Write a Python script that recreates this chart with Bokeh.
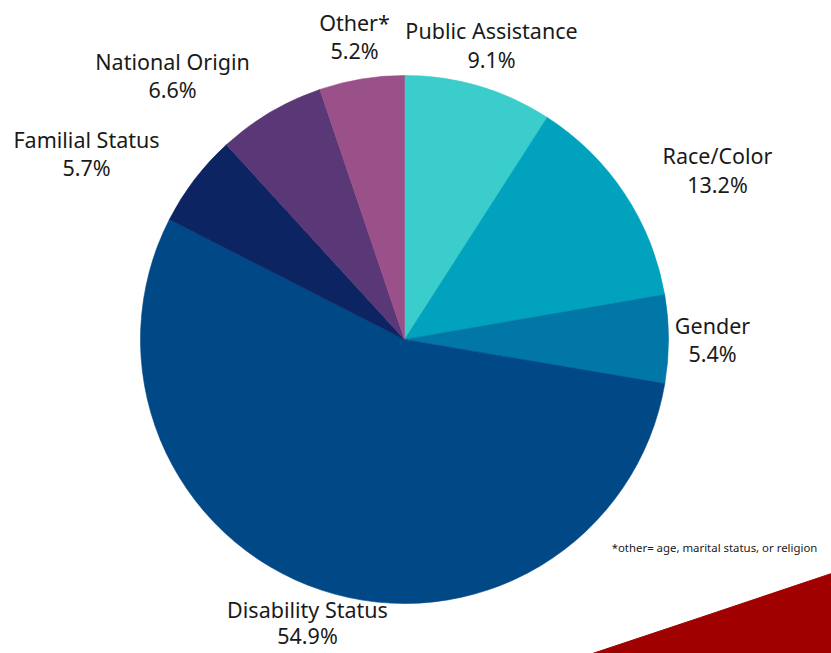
import math
from bokeh.plotting import figure
from bokeh.models import Range1d
from bokeh.core.properties import value
from bokeh.embed import file_html
from bokeh.resources import INLINE

# ---- data ----
categories = ["Public Assistance", "Race/Color", "Gender", "Disability Status",
              "Familial Status", "National Origin", "Other*"]
percents = [9.1, 13.2, 5.4, 54.9, 5.7, 6.6, 5.2]
pct_labels = ["9.1%", "13.2%", "5.4%", "54.9%", "5.7%", "6.6%", "5.2%"]
footnote = "*other= age, marital status, or religion"

# ---- styles ----
colors = ["#3ACDCB", "#00A2BE", "#0077A6", "#004886", "#0C2461", "#5A3776", "#9A5189"]
FONT = "Noto Sans"
W, H = 831, 653

# image-pixel coordinate system (y measured up from bottom)
def Y(img_y):
    return H - img_y

cx, cy, R = 404, Y(339), 264
# label anchors (image px): x, name line y, value line y
label_pos = {
    "Public Assistance": (491, 30, 59),
    "Race/Color": (717, 155, 184),
    "Gender": (712, 325, 353),
    "Disability Status": (307, 609, 635),
    "Familial Status": (86, 139, 167),
    "National Origin": (172, 61, 89),
    "Other*": (354, 22, 50),
}

p = figure(width=W, height=H, output_backend="svg", toolbar_location=None,
           x_range=Range1d(0, W), y_range=Range1d(0, H),
           min_border=0, outline_line_color=None)
p.axis.visible = False
p.grid.visible = False
p.background_fill_color = "white"
p.border_fill_color = "white"

# decorative red swoosh in bottom-right corner
p.patch(x=[592, 700, 831, 840, 840, 592], y=[Y(653), Y(617), Y(573), Y(570), Y(660), Y(660)],
        fill_color="#A00000", line_color="#A00000")

total = sum(percents)
cum = 0.0
starts, ends = [], []
for v in percents:
    a0 = math.pi / 2 - 2 * math.pi * cum / total
    cum += v
    a1 = math.pi / 2 - 2 * math.pi * cum / total
    starts.append(a1)
    ends.append(a0)

p.wedge(x=[cx] * len(percents), y=[cy] * len(percents), radius=R,
        start_angle=starts, end_angle=ends,
        fill_color=colors, line_color=colors, line_width=0.6)

names_x = [label_pos[c][0] for c in categories]
names_y = [Y(label_pos[c][1]) for c in categories]
vals_y = [Y(label_pos[c][2]) for c in categories]

p.text(x=names_x, y=names_y, text=categories, text_font=value(FONT),
       text_font_size="21.5px", text_align="center", text_baseline="middle",
       text_color="#1a1a1a")
p.text(x=names_x, y=vals_y, text=pct_labels, text_font=value(FONT),
       text_font_size="21.5px", text_align="center", text_baseline="middle",
       text_color="#1a1a1a")

p.text(x=[714], y=[Y(547)], text=[footnote], text_font=value(FONT),
       text_font_size="11.4px", text_align="center", text_baseline="middle",
       text_color="#1a1a1a")

open("out.html", "w").write(file_html(p, INLINE))
